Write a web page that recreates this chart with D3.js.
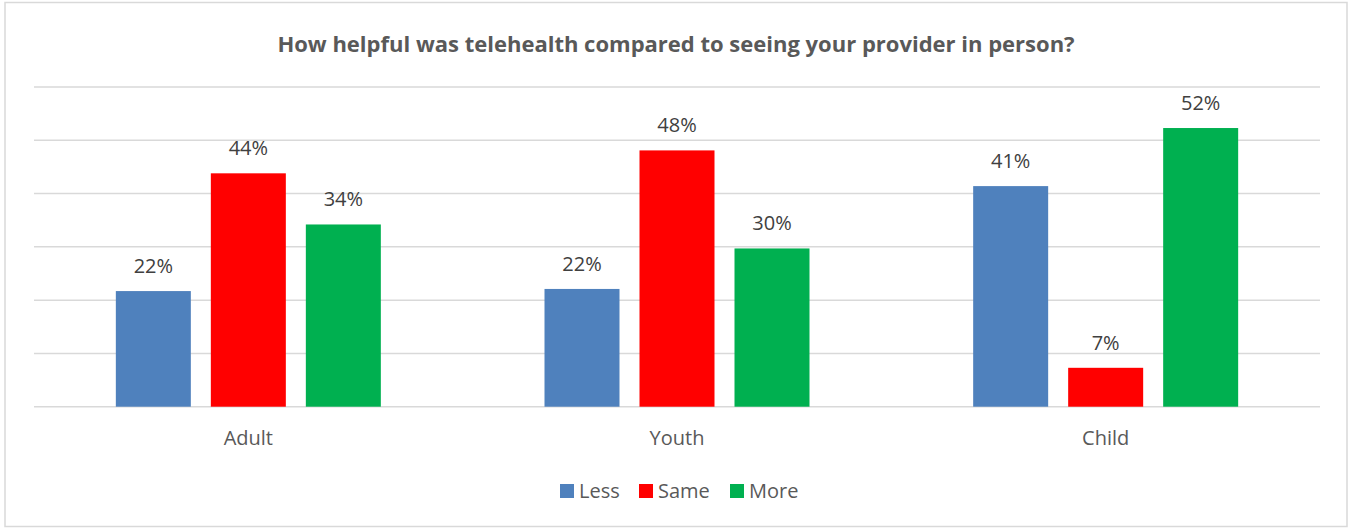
<!DOCTYPE html>
<html>
<head>
<meta charset="utf-8">
<script src="https://cdn.jsdelivr.net/npm/d3@7"></script>
<style>
  body { margin: 0; background: #fff; }
  text { font-family: "Open Sans", "Noto Sans", sans-serif; }
</style>
</head>
<body>
<div id="container"></div>
<script>
// data
var categories = ['Adult', 'Youth', 'Child'];
var seriesNames = ['Less', 'Same', 'More'];
var lessValues = [21.7, 22.1, 41.4];
var sameValues = [43.8, 48.1, 7.3];
var moreValues = [34.2, 29.7, 52.3];
var yTicks = [0, 10, 20, 30, 40, 50, 60];

var colors = { Less: '#4f81bd', Same: '#ff0000', More: '#00b050' };

const WIDTH = 1350, HEIGHT = 529;
const LEFT = 34, RIGHT = 1320, TOP = 87, BOTTOM = 406.7;

var svg = d3.select('#container')
    .append('svg')
    .attr('width', WIDTH)
    .attr('height', HEIGHT);

// chart frame
svg.append('rect')
    .attr('x', 5).attr('y', 2.5)
    .attr('width', 1342).attr('height', 524)
    .attr('fill', '#fff')
    .attr('stroke', '#d9d9d9')
    .attr('stroke-width', 1.5);

svg.append('text')
    .attr('x', 676).attr('y', 52)
    .attr('text-anchor', 'middle')
    .style('font-size', '22px')
    .style('font-weight', 'bold')
    .style('fill', '#595959')
    .text('How helpful was telehealth compared to seeing your provider in person?');

var table = categories.map(function(c, i) {
    return { cat: c, values: [
        { name: 'Less', value: lessValues[i] },
        { name: 'Same', value: sameValues[i] },
        { name: 'More', value: moreValues[i] }
    ]};
});

var yscale = d3.scaleLinear()
    .domain([0, d3.max(yTicks)])
    .range([BOTTOM, TOP]);

var x0 = d3.scaleBand()
    .domain(categories)
    .range([LEFT, RIGHT])
    .padding(0);

var GROUP_W = 265;
var x1 = d3.scaleBand()
    .domain(seriesNames)
    .range([0, GROUP_W])
    .paddingInner(20 / 95)
    .paddingOuter(0);

// gridlines
svg.append('g')
    .attr('class', 'grid')
    .selectAll('line')
    .data(yTicks)
    .enter().append('line')
    .attr('x1', LEFT).attr('x2', RIGHT)
    .attr('y1', function(d) { return yscale(d); })
    .attr('y2', function(d) { return yscale(d); })
    .attr('stroke', '#d9d9d9')
    .attr('stroke-width', 1.5);

var groups = svg.selectAll('g.cat')
    .data(table)
    .enter().append('g')
    .attr('class', 'cat')
    .attr('transform', function(d) {
        return 'translate(' + (x0(d.cat) + x0.bandwidth() / 2 - GROUP_W / 2) + ',0)';
    });

groups.selectAll('rect')
    .data(function(d) { return d.values; })
    .enter().append('rect')
    .attr('x', function(d) { return x1(d.name); })
    .attr('y', function(d) { return yscale(d.value); })
    .attr('width', x1.bandwidth())
    .attr('height', function(d) { return BOTTOM - yscale(d.value); })
    .style('fill', function(d) { return colors[d.name]; });

groups.selectAll('text.lbl')
    .data(function(d) { return d.values; })
    .enter().append('text')
    .attr('class', 'lbl')
    .attr('x', function(d) { return x1(d.name) + x1.bandwidth() / 2; })
    .attr('y', function(d) { return yscale(d.value) - 18; })
    .attr('text-anchor', 'middle')
    .style('font-size', '20px')
    .style('fill', '#404040')
    .text(function(d) { return Math.round(d.value) + '%'; });

// category axis
var xAxis = d3.axisBottom(x0).tickSize(0).tickPadding(0);
var axisG = svg.append('g')
    .attr('transform', 'translate(0,' + BOTTOM + ')')
    .call(xAxis);
axisG.select('.domain').remove();
axisG.selectAll('text')
    .attr('dy', null)
    .attr('y', 38)
    .style('font-size', '20px')
    .style('font-family', '"Open Sans", "Noto Sans", sans-serif')
    .style('fill', '#595959');

// legend
var legendX = [560, 639, 730];
var legend = svg.append('g').attr('class', 'legend');
seriesNames.forEach(function(name, i) {
    legend.append('rect')
        .attr('x', legendX[i]).attr('y', 484)
        .attr('width', 14).attr('height', 14)
        .style('fill', colors[name]);
    legend.append('text')
        .attr('x', legendX[i] + 19).attr('y', 498)
        .style('font-size', '20px')
        .style('fill', '#595959')
        .text(name);
});
</script>
</body>
</html>
